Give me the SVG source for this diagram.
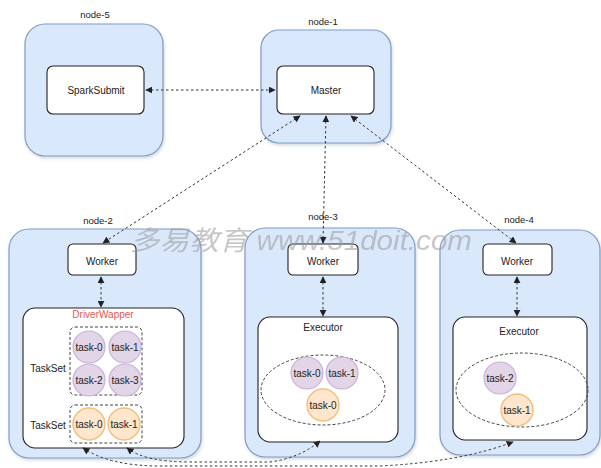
<svg xmlns="http://www.w3.org/2000/svg" width="601" height="468" viewBox="0 0 601 468">
<defs>
<marker id="ah" viewBox="0 0 10 10" refX="9" refY="5" markerWidth="7" markerHeight="7" orient="auto-start-reverse" markerUnits="userSpaceOnUse">
<path d="M0,0 L10,5 L0,10 z" fill="#222"/>
</marker>
<filter id="sh" x="-10%" y="-10%" width="120%" height="120%">
<feDropShadow dx="1" dy="2" stdDeviation="1.5" flood-color="#8899aa" flood-opacity="0.35"/>
</filter>
</defs>
<style>
.cont{fill:#dae8fc;stroke:#7f9cc4;stroke-width:1.2;filter:url(#sh)}
.box{fill:#ffffff;stroke:#222;stroke-width:1.1}
.grp{fill:none;stroke:#444;stroke-width:1;stroke-dasharray:3 2}
.pur{fill:#e1d5e7;stroke:#c7b2d6;stroke-width:1.2}
.ora{fill:#ffe6cc;stroke:#eec07a;stroke-width:1.4}
.t{font-family:"Liberation Sans",Arial,sans-serif;font-size:10px;fill:#222;text-anchor:middle;dominant-baseline:central}
.lbl{font-family:"Liberation Sans",Arial,sans-serif;font-size:9.5px;fill:#222;text-anchor:middle}
.con{fill:none;stroke:#333;stroke-width:1;stroke-dasharray:2.5 2.5}
.wm{font-family:"Liberation Sans","Noto Sans CJK SC",sans-serif;font-style:italic;font-size:27px;fill:#9a9a9a;opacity:0.55}
</style>

<g id="node-5">
<rect class="cont" x="25" y="24" width="138" height="132" rx="20"/>
<text class="lbl" x="95" y="18">node-5</text>
<rect class="box" x="47" y="66" width="97" height="48" rx="6"/>
<text class="t" x="96" y="90">SparkSubmit</text>
</g>

<g id="node-1">
<rect class="cont" x="261" y="30" width="130" height="113" rx="18"/>
<text class="lbl" x="323" y="25">node-1</text>
<rect class="box" x="277" y="66" width="97" height="48" rx="6"/>
<text class="t" x="326" y="90">Master</text>
</g>

<g id="node-2">
<rect class="cont" x="9" y="229" width="192" height="229" rx="20"/>
<text class="lbl" x="98" y="224">node-2</text>
<rect class="box" x="68" y="244" width="68" height="31" rx="5"/>
<text class="t" x="102" y="261">Worker</text>
<rect class="box" x="23" y="308" width="161" height="140" rx="12"/>
<text class="t" x="103" y="314" style="fill:#e05a4f">DriverWapper</text>
<text class="t" x="48" y="368">TaskSet</text>
<rect class="grp" x="70" y="327" width="72" height="68" rx="5"/>
<circle class="pur" cx="89" cy="347" r="16"/>
<text class="t" x="89" y="347">task-0</text>
<circle class="pur" cx="125" cy="347" r="16"/>
<text class="t" x="125" y="347">task-1</text>
<circle class="pur" cx="89" cy="380" r="16"/>
<text class="t" x="89" y="380">task-2</text>
<circle class="pur" cx="125" cy="380" r="16"/>
<text class="t" x="125" y="380">task-3</text>
<text class="t" x="48" y="425">TaskSet</text>
<rect class="grp" x="70" y="405" width="72" height="38" rx="5"/>
<circle class="ora" cx="89" cy="424" r="16"/>
<text class="t" x="89" y="424">task-0</text>
<circle class="ora" cx="124" cy="424" r="16"/>
<text class="t" x="124" y="424">task-1</text>
</g>

<g id="node-3">
<rect class="cont" x="245" y="228" width="170" height="229" rx="20"/>
<text class="lbl" x="323" y="220">node-3</text>
<rect class="box" x="288" y="244" width="70" height="31" rx="5"/>
<text class="t" x="323" y="261">Worker</text>
<rect class="box" x="258" y="317" width="140" height="125" rx="12"/>
<text class="t" x="323" y="327">Executor</text>
<ellipse class="grp" cx="323" cy="390" rx="62" ry="35"/>
<circle class="pur" cx="307" cy="373" r="16"/>
<text class="t" x="307" y="373">task-0</text>
<circle class="pur" cx="342" cy="373" r="16"/>
<text class="t" x="342" y="373">task-1</text>
<circle class="ora" cx="323" cy="405" r="16"/>
<text class="t" x="323" y="405">task-0</text>
</g>

<g id="node-4">
<rect class="cont" x="440" y="230" width="160" height="225" rx="20"/>
<text class="lbl" x="519" y="223">node-4</text>
<rect class="box" x="483" y="244" width="69" height="31" rx="5"/>
<text class="t" x="517" y="261">Worker</text>
<rect class="box" x="453" y="317" width="134" height="123" rx="12"/>
<text class="t" x="519" y="331">Executor</text>
<ellipse class="grp" cx="522" cy="390" rx="66" ry="37"/>
<circle class="pur" cx="500" cy="378" r="16"/>
<text class="t" x="500" y="378">task-2</text>
<circle class="ora" cx="517" cy="410" r="16"/>
<text class="t" x="517" y="410">task-1</text>
</g>

<g id="connectors">
<line class="con" x1="146" y1="90" x2="275" y2="90" marker-start="url(#ah)" marker-end="url(#ah)"/>
<line class="con" x1="300" y1="116" x2="103" y2="243" marker-start="url(#ah)" marker-end="url(#ah)"/>
<line class="con" x1="326" y1="116" x2="323" y2="243" marker-start="url(#ah)" marker-end="url(#ah)"/>
<line class="con" x1="351" y1="116" x2="516" y2="243" marker-start="url(#ah)" marker-end="url(#ah)"/>
<line class="con" x1="101" y1="277" x2="101" y2="307" marker-start="url(#ah)" marker-end="url(#ah)"/>
<line class="con" x1="323" y1="277" x2="323" y2="316" marker-start="url(#ah)" marker-end="url(#ah)"/>
<line class="con" x1="517" y1="277" x2="517" y2="316" marker-start="url(#ah)" marker-end="url(#ah)"/>
<path class="con" d="M83,448 Q110,466 160,466 L380,466 Q460,462 513,442" marker-start="url(#ah)" marker-end="url(#ah)"/>
<path class="con" d="M127,448 Q145,462 190,462 L270,462 Q300,458 320,441" marker-start="url(#ah)" marker-end="url(#ah)"/>
</g>

<text class="wm" x="130" y="250" textLength="342" lengthAdjust="spacingAndGlyphs">多易教育 www.51doit.com</text>
</svg>
